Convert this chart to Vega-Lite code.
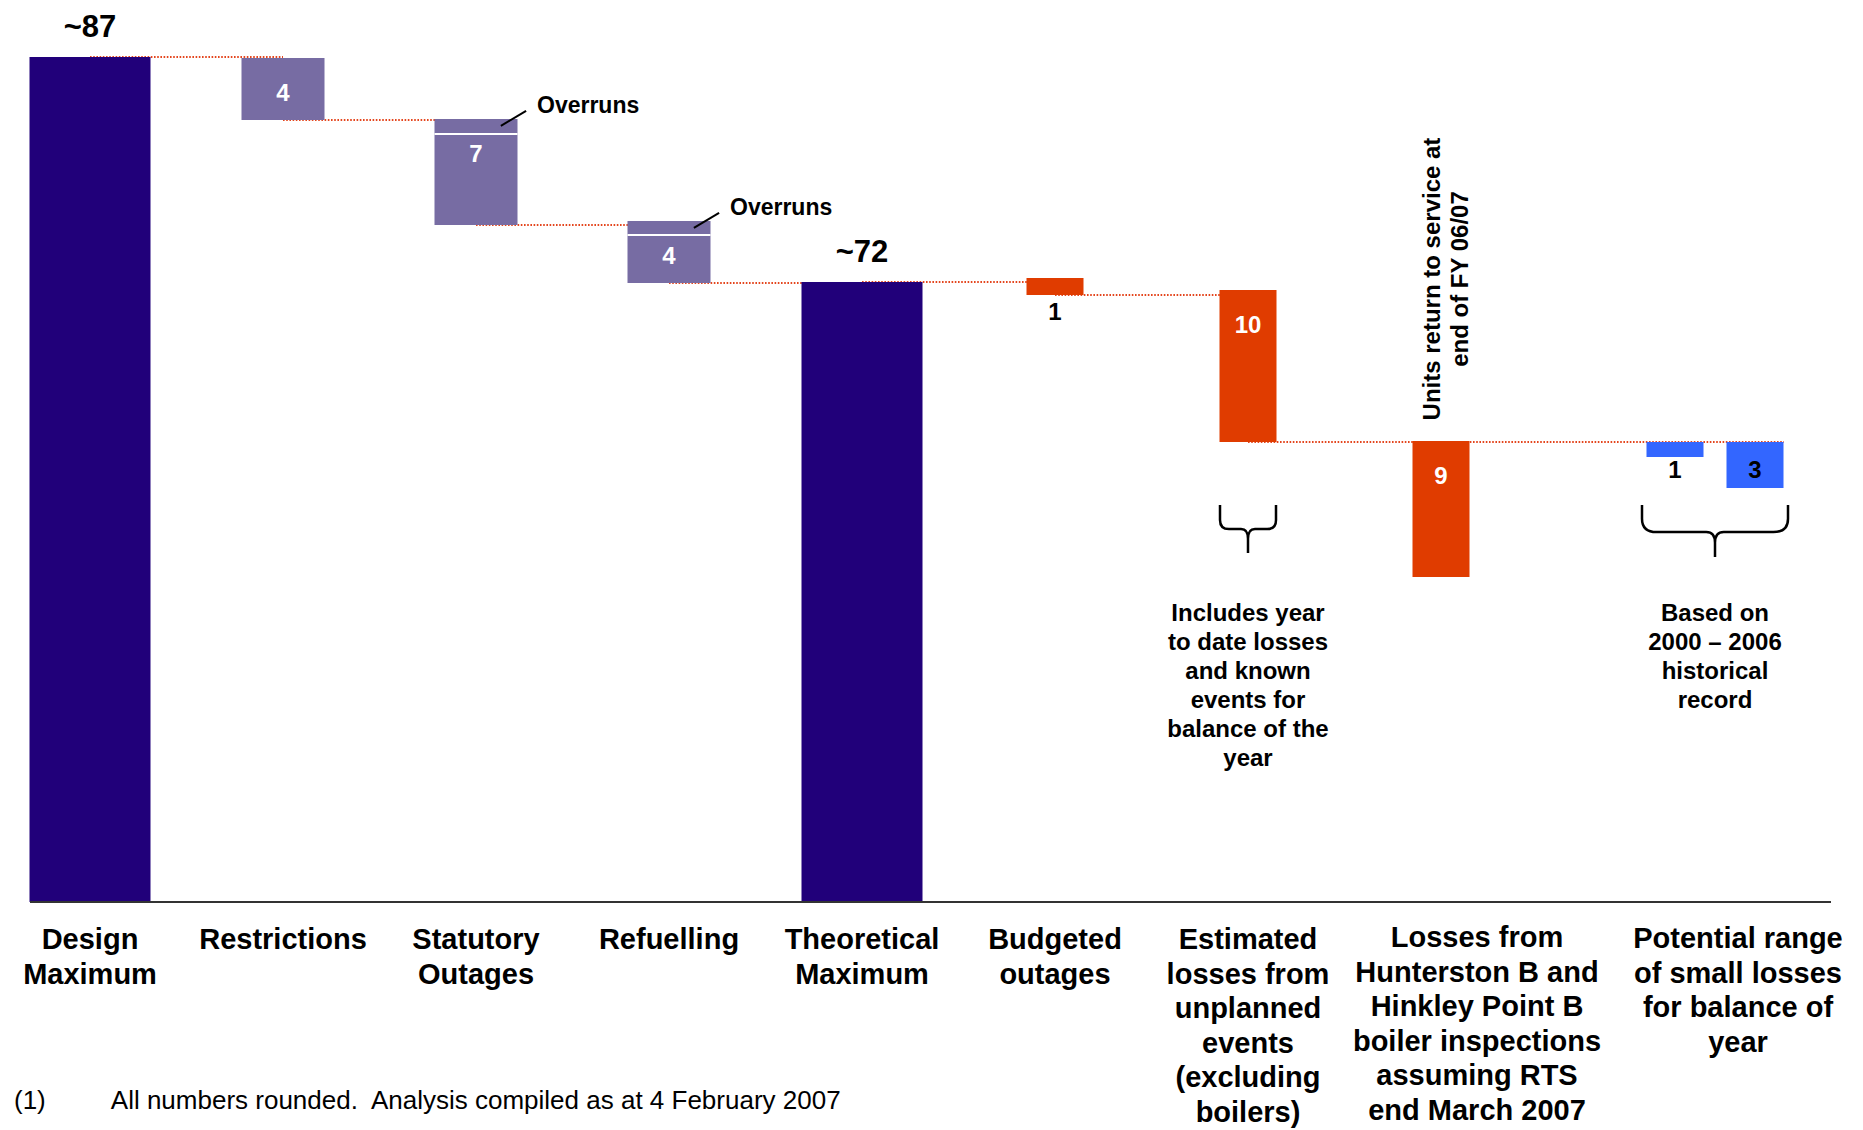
{
 "$schema": "https://vega.github.io/schema/vega-lite/v6.json",
 "width": 1801,
 "height": 902,
 "autosize": {"type": "none"},
 "padding": {"left": 30, "top": 0, "right": 32, "bottom": 228},
 "background": "#ffffff",
 "config": {"view": {"stroke": null}, "font": "Liberation Sans", "text": {"font": "Liberation Sans", "lineBreak": "\n"}},
 "datasets": {
  "cats": [
   {"cat": "Design Maximum", "text": "Design\nMaximum"},
   {"cat": "Restrictions", "text": "Restrictions"},
   {"cat": "Statutory Outages", "text": "Statutory\nOutages"},
   {"cat": "Refuelling", "text": "Refuelling"},
   {"cat": "Theoretical Maximum", "text": "Theoretical\nMaximum"},
   {"cat": "Budgeted outages", "text": "Budgeted\noutages"},
   {"cat": "Estimated losses from unplanned events (excluding boilers)", "text": "Estimated\nlosses from\nunplanned\nevents\n(excluding\nboilers)"},
   {"cat": "Losses from Hunterston B and Hinkley Point B boiler inspections assuming RTS end March 2007", "text": "Losses from\nHunterston B and\nHinkley Point B\nboiler inspections\nassuming RTS\nend March 2007"},
   {"cat": "Potential range of small losses for balance of year", "text": "Potential range\nof small losses\nfor balance of\nyear"}
  ],
  "bars": [
   {"cat": "Design Maximum", "kind": "total", "start": 0, "end": 87, "label": "~87"},
   {"cat": "Restrictions", "kind": "planned", "start": 86.93, "end": 82.8, "label": "4"},
   {"cat": "Statutory Outages", "kind": "planned", "start": 82.87, "end": 75.8, "label": "7", "split": 81.87, "splitNote": "Overruns"},
   {"cat": "Refuelling", "kind": "planned", "start": 76.07, "end": 71.93, "label": "4", "split": 75.13, "splitNote": "Overruns"},
   {"cat": "Theoretical Maximum", "kind": "total", "start": 0, "end": 72, "label": "~72"},
   {"cat": "Budgeted outages", "kind": "unplanned", "start": 72.27, "end": 71.13, "label": "1"},
   {"cat": "Estimated losses from unplanned events (excluding boilers)", "kind": "unplanned", "start": 71.47, "end": 61.33, "label": "10", "note": "Includes year\nto date losses\nand known\nevents for\nbalance of the\nyear"},
   {"cat": "Losses from Hunterston B and Hinkley Point B boiler inspections assuming RTS end March 2007", "kind": "unplanned", "start": 61.4, "end": 52.33, "label": "9", "vnote": "Units return to service at\nend of FY 06/07"}
  ],
  "small": [
   {"cat": "Potential range of small losses for balance of year", "sub": "low", "kind": "range", "start": 61.33, "end": 60.33, "label": "1"},
   {"cat": "Potential range of small losses for balance of year", "sub": "high", "kind": "range", "start": 61.33, "end": 58.27, "label": "3"}
  ],
  "groupNote": [
   {"cat": "Potential range of small losses for balance of year", "sub": "mid", "level": 61.33, "note": "Based on\n2000 – 2006\nhistorical\nrecord"}
  ],
  "links": [
   {"from": "Design Maximum", "to": "Restrictions", "level": 87},
   {"from": "Restrictions", "to": "Statutory Outages", "level": 82.8},
   {"from": "Statutory Outages", "to": "Refuelling", "level": 75.8},
   {"from": "Refuelling", "to": "Theoretical Maximum", "level": 71.93},
   {"from": "Theoretical Maximum", "to": "Budgeted outages", "level": 72},
   {"from": "Budgeted outages", "to": "Estimated losses from unplanned events (excluding boilers)", "level": 71.13},
   {"from": "Estimated losses from unplanned events (excluding boilers)", "to": "Losses from Hunterston B and Hinkley Point B boiler inspections assuming RTS end March 2007", "level": 61.33},
   {"from": "Losses from Hunterston B and Hinkley Point B boiler inspections assuming RTS end March 2007", "to": "Potential range of small losses for balance of year", "level": 61.33}
  ],
  "footnote": [
   {"text": "(1)\u00a0\u00a0\u00a0\u00a0\u00a0\u00a0\u00a0\u00a0\u00a0All numbers rounded.\u00a0 Analysis compiled as at 4 February 2007"}
  ]
 },
 "layer": [
  {
   "data": {"name": "links"},
   "transform": [{"filter": "datum.to !== 'Potential range of small losses for balance of year'"}],
   "mark": {"type": "rule", "color": "#E4461E", "strokeWidth": 2, "strokeDash": [1.6, 1.6]},
   "encoding": {
    "x": {"field": "from", "type": "nominal", "title": null, "scale": {"domain": ["Design Maximum", "Restrictions", "Statutory Outages", "Refuelling", "Theoretical Maximum", "Budgeted outages", "Estimated losses from unplanned events (excluding boilers)", "Losses from Hunterston B and Hinkley Point B boiler inspections assuming RTS end March 2007", "Potential range of small losses for balance of year"], "paddingInner": 0.378238, "paddingOuter": 0.354922, "align": 0, "round": false}, "axis": null},
    "x2": {"field": "to"},
    "y": {"field": "level", "type": "quantitative", "scale": {"domain": [30.67, 90.8], "nice": false, "zero": false, "clamp": true}, "axis": null}
   }
  },
  {
   "data": {"name": "links"},
   "transform": [{"filter": "datum.to === 'Potential range of small losses for balance of year'"}],
   "mark": {"type": "rule", "color": "#E4461E", "strokeWidth": 2, "strokeDash": [1.6, 1.6]},
   "encoding": {
    "x": {"field": "from", "type": "nominal", "title": null, "scale": {"domain": ["Design Maximum", "Restrictions", "Statutory Outages", "Refuelling", "Theoretical Maximum", "Budgeted outages", "Estimated losses from unplanned events (excluding boilers)", "Losses from Hunterston B and Hinkley Point B boiler inspections assuming RTS end March 2007", "Potential range of small losses for balance of year"], "paddingInner": 0.378238, "paddingOuter": 0.354922, "align": 0, "round": false}, "axis": null},
    "x2": {"field": "to", "bandPosition": 1.75},
    "y": {"field": "level", "type": "quantitative", "scale": {"domain": [30.67, 90.8], "nice": false, "zero": false, "clamp": true}, "axis": null}
   }
  },
  {
   "data": {"name": "bars"},
   "transform": [{"filter": "datum.kind === 'total'"}],
   "mark": {"type": "bar", "width": 121, "color": "#21007A"},
   "encoding": {
    "x": {"field": "cat", "type": "nominal", "title": null, "scale": {"domain": ["Design Maximum", "Restrictions", "Statutory Outages", "Refuelling", "Theoretical Maximum", "Budgeted outages", "Estimated losses from unplanned events (excluding boilers)", "Losses from Hunterston B and Hinkley Point B boiler inspections assuming RTS end March 2007", "Potential range of small losses for balance of year"], "paddingInner": 0.378238, "paddingOuter": 0.354922, "align": 0, "round": false}, "axis": null},
    "y": {"field": "start", "type": "quantitative", "scale": {"domain": [30.67, 90.8], "nice": false, "zero": false, "clamp": true}, "axis": null},
    "y2": {"field": "end"}
   }
  },
  {
   "data": {"name": "bars"},
   "transform": [{"filter": "datum.kind === 'planned'"}],
   "mark": {"type": "bar", "width": 83, "color": "#776CA3"},
   "encoding": {
    "x": {"field": "cat", "type": "nominal", "title": null, "scale": {"domain": ["Design Maximum", "Restrictions", "Statutory Outages", "Refuelling", "Theoretical Maximum", "Budgeted outages", "Estimated losses from unplanned events (excluding boilers)", "Losses from Hunterston B and Hinkley Point B boiler inspections assuming RTS end March 2007", "Potential range of small losses for balance of year"], "paddingInner": 0.378238, "paddingOuter": 0.354922, "align": 0, "round": false}, "axis": null},
    "y": {"field": "start", "type": "quantitative", "scale": {"domain": [30.67, 90.8], "nice": false, "zero": false, "clamp": true}, "axis": null},
    "y2": {"field": "end"}
   }
  },
  {
   "data": {"name": "bars"},
   "transform": [{"filter": "datum.kind === 'unplanned'"}],
   "mark": {"type": "bar", "width": 57, "color": "#E03C00"},
   "encoding": {
    "x": {"field": "cat", "type": "nominal", "title": null, "scale": {"domain": ["Design Maximum", "Restrictions", "Statutory Outages", "Refuelling", "Theoretical Maximum", "Budgeted outages", "Estimated losses from unplanned events (excluding boilers)", "Losses from Hunterston B and Hinkley Point B boiler inspections assuming RTS end March 2007", "Potential range of small losses for balance of year"], "paddingInner": 0.378238, "paddingOuter": 0.354922, "align": 0, "round": false}, "axis": null},
    "y": {"field": "start", "type": "quantitative", "scale": {"domain": [30.67, 90.8], "nice": false, "zero": false, "clamp": true}, "axis": null},
    "y2": {"field": "end"}
   }
  },
  {
   "data": {"name": "small"},
   "mark": {"type": "bar", "width": 57, "color": "#3366FF"},
   "encoding": {
    "x": {"field": "cat", "type": "nominal", "title": null, "scale": {"domain": ["Design Maximum", "Restrictions", "Statutory Outages", "Refuelling", "Theoretical Maximum", "Budgeted outages", "Estimated losses from unplanned events (excluding boilers)", "Losses from Hunterston B and Hinkley Point B boiler inspections assuming RTS end March 2007", "Potential range of small losses for balance of year"], "paddingInner": 0.378238, "paddingOuter": 0.354922, "align": 0, "round": false}, "axis": null},
    "xOffset": {"field": "sub", "type": "nominal", "scale": {"domain": ["low", "mid", "high"], "range": [61, 221], "paddingInner": 0, "paddingOuter": 0.5}},
    "y": {"field": "start", "type": "quantitative", "scale": {"domain": [30.67, 90.8], "nice": false, "zero": false, "clamp": true}, "axis": null},
    "y2": {"field": "end"}
   }
  },
  {
   "data": {"name": "bars"},
   "transform": [{"filter": "isValid(datum.split)"}],
   "mark": {"type": "tick", "color": "#ffffff", "thickness": 2, "size": 83, "opacity": 1},
   "encoding": {
    "x": {"field": "cat", "type": "nominal", "title": null, "scale": {"domain": ["Design Maximum", "Restrictions", "Statutory Outages", "Refuelling", "Theoretical Maximum", "Budgeted outages", "Estimated losses from unplanned events (excluding boilers)", "Losses from Hunterston B and Hinkley Point B boiler inspections assuming RTS end March 2007", "Potential range of small losses for balance of year"], "paddingInner": 0.378238, "paddingOuter": 0.354922, "align": 0, "round": false}, "axis": null},
    "y": {"field": "split", "type": "quantitative", "scale": {"domain": [30.67, 90.8], "nice": false, "zero": false, "clamp": true}, "axis": null}
   }
  },
  {
   "data": {"values": [{"base": 30.67}]},
   "mark": {"type": "rule", "color": "#333333", "strokeWidth": 2},
   "encoding": {
    "y": {"field": "base", "type": "quantitative", "scale": {"domain": [30.67, 90.8], "nice": false, "zero": false, "clamp": true}, "axis": null}
   }
  },
  {
   "data": {"name": "cats"},
   "transform": [{"filter": "indexof(['Losses from Hunterston B and Hinkley Point B boiler inspections assuming RTS end March 2007', 'Potential range of small losses for balance of year'], datum.cat) < 0"}],
   "mark": {"type": "text", "font": "Liberation Sans", "fontWeight": "bold", "fontSize": 29, "color": "#000000", "baseline": "top", "align": "center", "dy": 24, "lineHeight": 34.5},
   "encoding": {
    "x": {"field": "cat", "type": "nominal", "title": null, "scale": {"domain": ["Design Maximum", "Restrictions", "Statutory Outages", "Refuelling", "Theoretical Maximum", "Budgeted outages", "Estimated losses from unplanned events (excluding boilers)", "Losses from Hunterston B and Hinkley Point B boiler inspections assuming RTS end March 2007", "Potential range of small losses for balance of year"], "paddingInner": 0.378238, "paddingOuter": 0.354922, "align": 0, "round": false}, "axis": null},
    "y": {"datum": 30.67, "type": "quantitative", "scale": {"domain": [30.67, 90.8], "nice": false, "zero": false, "clamp": true}, "axis": null},
    "text": {"field": "text"}
   }
  },
  {
   "data": {"name": "cats"},
   "transform": [{"filter": "datum.cat === 'Losses from Hunterston B and Hinkley Point B boiler inspections assuming RTS end March 2007'"}],
   "mark": {"type": "text", "font": "Liberation Sans", "fontWeight": "bold", "fontSize": 29, "color": "#000000", "baseline": "top", "align": "center", "dx": 36, "dy": 22, "lineHeight": 34.5},
   "encoding": {
    "x": {"field": "cat", "type": "nominal", "title": null, "scale": {"domain": ["Design Maximum", "Restrictions", "Statutory Outages", "Refuelling", "Theoretical Maximum", "Budgeted outages", "Estimated losses from unplanned events (excluding boilers)", "Losses from Hunterston B and Hinkley Point B boiler inspections assuming RTS end March 2007", "Potential range of small losses for balance of year"], "paddingInner": 0.378238, "paddingOuter": 0.354922, "align": 0, "round": false}, "axis": null},
    "y": {"datum": 30.67, "type": "quantitative", "scale": {"domain": [30.67, 90.8], "nice": false, "zero": false, "clamp": true}, "axis": null},
    "text": {"field": "text"}
   }
  },
  {
   "data": {"name": "cats"},
   "transform": [{"filter": "datum.cat === 'Potential range of small losses for balance of year'"}],
   "mark": {"type": "text", "font": "Liberation Sans", "fontWeight": "bold", "fontSize": 29, "color": "#000000", "baseline": "top", "align": "center", "dx": 104, "dy": 23, "lineHeight": 34.5},
   "encoding": {
    "x": {"field": "cat", "type": "nominal", "title": null, "scale": {"domain": ["Design Maximum", "Restrictions", "Statutory Outages", "Refuelling", "Theoretical Maximum", "Budgeted outages", "Estimated losses from unplanned events (excluding boilers)", "Losses from Hunterston B and Hinkley Point B boiler inspections assuming RTS end March 2007", "Potential range of small losses for balance of year"], "paddingInner": 0.378238, "paddingOuter": 0.354922, "align": 0, "round": false}, "axis": null},
    "y": {"datum": 30.67, "type": "quantitative", "scale": {"domain": [30.67, 90.8], "nice": false, "zero": false, "clamp": true}, "axis": null},
    "text": {"field": "text"}
   }
  },
  {
   "data": {"name": "bars"},
   "transform": [{"filter": "datum.kind === 'total'"}],
   "mark": {"type": "text", "font": "Liberation Sans", "fontWeight": "bold", "fontSize": 31, "color": "#000000", "baseline": "alphabetic", "align": "center", "dy": -20},
   "encoding": {
    "x": {"field": "cat", "type": "nominal", "title": null, "scale": {"domain": ["Design Maximum", "Restrictions", "Statutory Outages", "Refuelling", "Theoretical Maximum", "Budgeted outages", "Estimated losses from unplanned events (excluding boilers)", "Losses from Hunterston B and Hinkley Point B boiler inspections assuming RTS end March 2007", "Potential range of small losses for balance of year"], "paddingInner": 0.378238, "paddingOuter": 0.354922, "align": 0, "round": false}, "axis": null},
    "y": {"field": "end", "type": "quantitative", "scale": {"domain": [30.67, 90.8], "nice": false, "zero": false, "clamp": true}, "axis": null},
    "text": {"field": "label"}
   }
  },
  {
   "data": {"name": "bars"},
   "transform": [{"filter": "datum.kind !== 'total' && datum.start - datum.end >= 2"}],
   "mark": {"type": "text", "font": "Liberation Sans", "fontWeight": "bold", "fontSize": 24, "color": "#ffffff", "baseline": "middle", "align": "center", "dy": 36},
   "encoding": {
    "x": {"field": "cat", "type": "nominal", "title": null, "scale": {"domain": ["Design Maximum", "Restrictions", "Statutory Outages", "Refuelling", "Theoretical Maximum", "Budgeted outages", "Estimated losses from unplanned events (excluding boilers)", "Losses from Hunterston B and Hinkley Point B boiler inspections assuming RTS end March 2007", "Potential range of small losses for balance of year"], "paddingInner": 0.378238, "paddingOuter": 0.354922, "align": 0, "round": false}, "axis": null},
    "y": {"field": "start", "type": "quantitative", "scale": {"domain": [30.67, 90.8], "nice": false, "zero": false, "clamp": true}, "axis": null},
    "text": {"field": "label"}
   }
  },
  {
   "data": {"name": "bars"},
   "transform": [{"filter": "datum.kind !== 'total' && datum.start - datum.end < 2"}],
   "mark": {"type": "text", "font": "Liberation Sans", "fontWeight": "bold", "fontSize": 24, "color": "#000000", "baseline": "middle", "align": "center", "dy": 18},
   "encoding": {
    "x": {"field": "cat", "type": "nominal", "title": null, "scale": {"domain": ["Design Maximum", "Restrictions", "Statutory Outages", "Refuelling", "Theoretical Maximum", "Budgeted outages", "Estimated losses from unplanned events (excluding boilers)", "Losses from Hunterston B and Hinkley Point B boiler inspections assuming RTS end March 2007", "Potential range of small losses for balance of year"], "paddingInner": 0.378238, "paddingOuter": 0.354922, "align": 0, "round": false}, "axis": null},
    "y": {"field": "end", "type": "quantitative", "scale": {"domain": [30.67, 90.8], "nice": false, "zero": false, "clamp": true}, "axis": null},
    "text": {"field": "label"}
   }
  },
  {
   "data": {"name": "small"},
   "mark": {"type": "text", "font": "Liberation Sans", "fontWeight": "bold", "fontSize": 24, "color": "#000000", "baseline": "middle", "align": "center", "dy": 29},
   "encoding": {
    "x": {"field": "cat", "type": "nominal", "title": null, "scale": {"domain": ["Design Maximum", "Restrictions", "Statutory Outages", "Refuelling", "Theoretical Maximum", "Budgeted outages", "Estimated losses from unplanned events (excluding boilers)", "Losses from Hunterston B and Hinkley Point B boiler inspections assuming RTS end March 2007", "Potential range of small losses for balance of year"], "paddingInner": 0.378238, "paddingOuter": 0.354922, "align": 0, "round": false}, "axis": null},
    "xOffset": {"field": "sub", "type": "nominal", "scale": {"domain": ["low", "mid", "high"], "range": [61, 221], "paddingInner": 0, "paddingOuter": 0.5}},
    "y": {"field": "start", "type": "quantitative", "scale": {"domain": [30.67, 90.8], "nice": false, "zero": false, "clamp": true}, "axis": null},
    "text": {"field": "label"}
   }
  },
  {
   "data": {"name": "bars"},
   "transform": [{"filter": "isValid(datum.splitNote)"}],
   "mark": {"type": "text", "font": "Liberation Sans", "fontWeight": "bold", "fontSize": 23, "color": "#000000", "baseline": "middle", "align": "left", "dx": 61, "dy": -13},
   "encoding": {
    "x": {"field": "cat", "type": "nominal", "title": null, "scale": {"domain": ["Design Maximum", "Restrictions", "Statutory Outages", "Refuelling", "Theoretical Maximum", "Budgeted outages", "Estimated losses from unplanned events (excluding boilers)", "Losses from Hunterston B and Hinkley Point B boiler inspections assuming RTS end March 2007", "Potential range of small losses for balance of year"], "paddingInner": 0.378238, "paddingOuter": 0.354922, "align": 0, "round": false}, "axis": null},
    "y": {"field": "start", "type": "quantitative", "scale": {"domain": [30.67, 90.8], "nice": false, "zero": false, "clamp": true}, "axis": null},
    "text": {"field": "splitNote"}
   }
  },
  {
   "data": {"name": "bars"},
   "transform": [{"filter": "isValid(datum.split)"}],
   "mark": {"type": "point", "shape": "M 0.83 0.23 L 1.67 -0.27", "size": 3600, "filled": false, "color": "#000000", "strokeWidth": 2, "opacity": 1},
   "encoding": {
    "x": {"field": "cat", "type": "nominal", "title": null, "scale": {"domain": ["Design Maximum", "Restrictions", "Statutory Outages", "Refuelling", "Theoretical Maximum", "Budgeted outages", "Estimated losses from unplanned events (excluding boilers)", "Losses from Hunterston B and Hinkley Point B boiler inspections assuming RTS end March 2007", "Potential range of small losses for balance of year"], "paddingInner": 0.378238, "paddingOuter": 0.354922, "align": 0, "round": false}, "axis": null},
    "y": {"field": "start", "type": "quantitative", "scale": {"domain": [30.67, 90.8], "nice": false, "zero": false, "clamp": true}, "axis": null}
   }
  },
  {
   "data": {"name": "bars"},
   "transform": [{"filter": "isValid(datum.note)"}],
   "mark": {"type": "text", "font": "Liberation Sans", "fontWeight": "bold", "fontSize": 24, "color": "#000000", "baseline": "top", "align": "center", "dy": 160, "lineHeight": 29},
   "encoding": {
    "x": {"field": "cat", "type": "nominal", "title": null, "scale": {"domain": ["Design Maximum", "Restrictions", "Statutory Outages", "Refuelling", "Theoretical Maximum", "Budgeted outages", "Estimated losses from unplanned events (excluding boilers)", "Losses from Hunterston B and Hinkley Point B boiler inspections assuming RTS end March 2007", "Potential range of small losses for balance of year"], "paddingInner": 0.378238, "paddingOuter": 0.354922, "align": 0, "round": false}, "axis": null},
    "y": {"field": "end", "type": "quantitative", "scale": {"domain": [30.67, 90.8], "nice": false, "zero": false, "clamp": true}, "axis": null},
    "text": {"field": "note"}
   }
  },
  {
   "data": {"name": "bars"},
   "transform": [{"filter": "isValid(datum.note)"}],
   "mark": {"type": "point", "shape": "M -1 2.25 L -1 2.78 Q -1 3.107 -0.68 3.107 L -0.25 3.107 Q 0 3.107 0 3.45 L 0 3.964 M 1 2.25 L 1 2.78 Q 1 3.107 0.68 3.107 L 0.25 3.107 Q 0 3.107 0 3.45", "size": 3136, "filled": false, "color": "#000000", "strokeWidth": 2.5, "opacity": 1},
   "encoding": {
    "x": {"field": "cat", "type": "nominal", "title": null, "scale": {"domain": ["Design Maximum", "Restrictions", "Statutory Outages", "Refuelling", "Theoretical Maximum", "Budgeted outages", "Estimated losses from unplanned events (excluding boilers)", "Losses from Hunterston B and Hinkley Point B boiler inspections assuming RTS end March 2007", "Potential range of small losses for balance of year"], "paddingInner": 0.378238, "paddingOuter": 0.354922, "align": 0, "round": false}, "axis": null},
    "y": {"field": "end", "type": "quantitative", "scale": {"domain": [30.67, 90.8], "nice": false, "zero": false, "clamp": true}, "axis": null}
   }
  },
  {
   "data": {"name": "bars"},
   "transform": [{"filter": "isValid(datum.vnote)"}],
   "mark": {"type": "text", "font": "Liberation Sans", "fontWeight": "bold", "fontSize": 24, "color": "#000000", "baseline": "top", "align": "center", "angle": 270, "dx": 162, "dy": -20, "lineHeight": 28},
   "encoding": {
    "x": {"field": "cat", "type": "nominal", "title": null, "scale": {"domain": ["Design Maximum", "Restrictions", "Statutory Outages", "Refuelling", "Theoretical Maximum", "Budgeted outages", "Estimated losses from unplanned events (excluding boilers)", "Losses from Hunterston B and Hinkley Point B boiler inspections assuming RTS end March 2007", "Potential range of small losses for balance of year"], "paddingInner": 0.378238, "paddingOuter": 0.354922, "align": 0, "round": false}, "axis": null},
    "y": {"field": "start", "type": "quantitative", "scale": {"domain": [30.67, 90.8], "nice": false, "zero": false, "clamp": true}, "axis": null},
    "text": {"field": "vnote"}
   }
  },
  {
   "data": {"name": "groupNote"},
   "mark": {"type": "text", "font": "Liberation Sans", "fontWeight": "bold", "fontSize": 24, "color": "#000000", "baseline": "top", "align": "center", "dy": 160, "lineHeight": 29},
   "encoding": {
    "x": {"field": "cat", "type": "nominal", "title": null, "scale": {"domain": ["Design Maximum", "Restrictions", "Statutory Outages", "Refuelling", "Theoretical Maximum", "Budgeted outages", "Estimated losses from unplanned events (excluding boilers)", "Losses from Hunterston B and Hinkley Point B boiler inspections assuming RTS end March 2007", "Potential range of small losses for balance of year"], "paddingInner": 0.378238, "paddingOuter": 0.354922, "align": 0, "round": false}, "axis": null},
    "xOffset": {"field": "sub", "type": "nominal", "scale": {"domain": ["low", "mid", "high"], "range": [61, 221], "paddingInner": 0, "paddingOuter": 0.5}},
    "y": {"field": "level", "type": "quantitative", "scale": {"domain": [30.67, 90.8], "nice": false, "zero": false, "clamp": true}, "axis": null},
    "text": {"field": "note"}
   }
  },
  {
   "data": {"name": "groupNote"},
   "mark": {"type": "point", "shape": "M -1 0.863 L -1 1.05 Q -1 1.233 -0.8 1.233 L -0.12 1.233 Q 0 1.233 0 1.38 L 0 1.575 M 1 0.863 L 1 1.05 Q 1 1.233 0.8 1.233 L 0.12 1.233 Q 0 1.233 0 1.38", "size": 21316, "filled": false, "color": "#000000", "strokeWidth": 2.5, "opacity": 1},
   "encoding": {
    "x": {"field": "cat", "type": "nominal", "title": null, "scale": {"domain": ["Design Maximum", "Restrictions", "Statutory Outages", "Refuelling", "Theoretical Maximum", "Budgeted outages", "Estimated losses from unplanned events (excluding boilers)", "Losses from Hunterston B and Hinkley Point B boiler inspections assuming RTS end March 2007", "Potential range of small losses for balance of year"], "paddingInner": 0.378238, "paddingOuter": 0.354922, "align": 0, "round": false}, "axis": null},
    "xOffset": {"field": "sub", "type": "nominal", "scale": {"domain": ["low", "mid", "high"], "range": [61, 221], "paddingInner": 0, "paddingOuter": 0.5}},
    "y": {"field": "level", "type": "quantitative", "scale": {"domain": [30.67, 90.8], "nice": false, "zero": false, "clamp": true}, "axis": null}
   }
  },
  {
   "data": {"name": "footnote"},
   "mark": {"type": "text", "font": "Liberation Sans", "fontWeight": "normal", "fontSize": 26, "color": "#000000", "baseline": "middle", "align": "left", "dx": -76, "dy": 199},
   "encoding": {
    "x": {"datum": "Design Maximum", "type": "nominal", "title": null, "scale": {"domain": ["Design Maximum", "Restrictions", "Statutory Outages", "Refuelling", "Theoretical Maximum", "Budgeted outages", "Estimated losses from unplanned events (excluding boilers)", "Losses from Hunterston B and Hinkley Point B boiler inspections assuming RTS end March 2007", "Potential range of small losses for balance of year"], "paddingInner": 0.378238, "paddingOuter": 0.354922, "align": 0, "round": false}, "axis": null},
    "y": {"datum": 30.67, "type": "quantitative", "scale": {"domain": [30.67, 90.8], "nice": false, "zero": false, "clamp": true}, "axis": null},
    "text": {"field": "text"}
   }
  }
 ]
}
